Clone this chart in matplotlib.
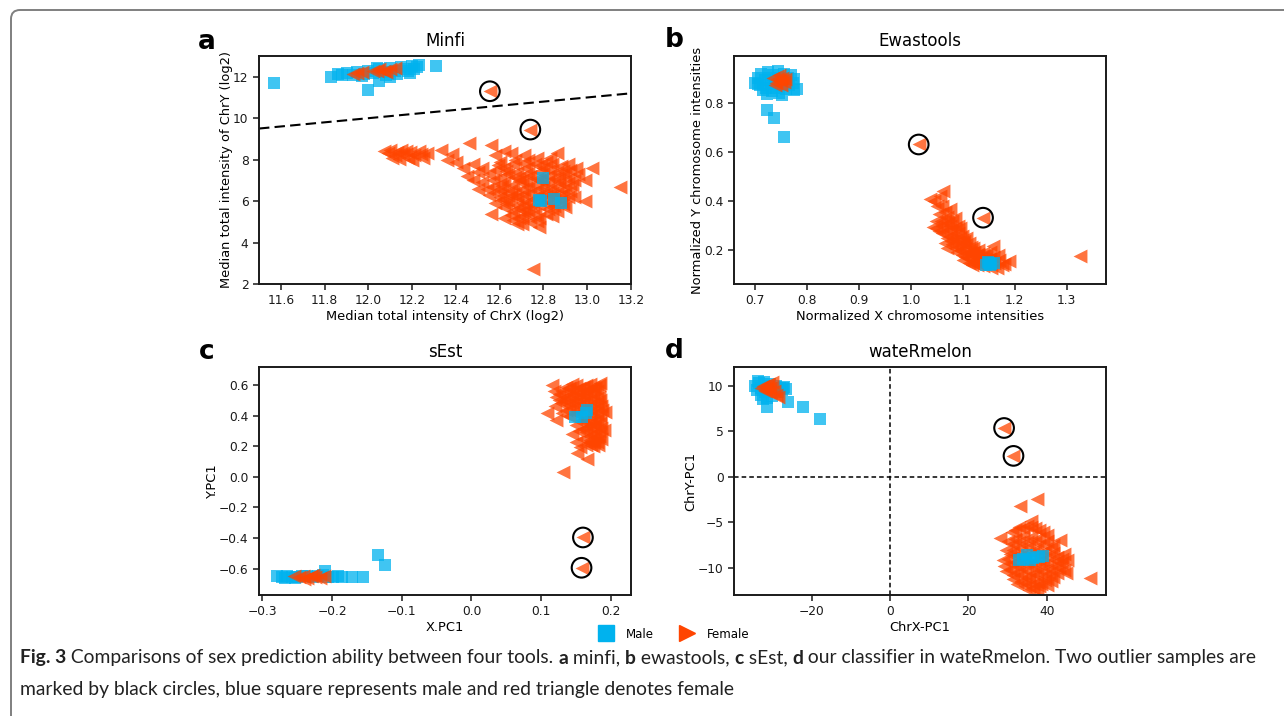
import numpy as np
import matplotlib
matplotlib.use("Agg")
import matplotlib.pyplot as plt
from matplotlib.lines import Line2D
from matplotlib.patches import FancyBboxPatch

# ---- panel a : Minfi ----
a_male = [(11.83, 12.0), (11.86, 12.15), (11.88, 12.1), (11.90, 12.2), (11.93, 12.1), (11.95, 12.25),
          (11.97, 12.05), (11.98, 12.15), (12.00, 12.3), (12.02, 12.2), (12.04, 12.4), (12.05, 12.35),
          (12.07, 12.25), (12.08, 12.1), (12.10, 12.4), (12.12, 12.3), (12.13, 12.15), (12.15, 12.45),
          (12.17, 12.35), (12.18, 12.3), (12.19, 12.2), (12.20, 12.5), (12.21, 12.38), (12.22, 12.45),
          (12.23, 12.55), (12.00, 11.35), (12.05, 11.8), (12.10, 12.0), (11.57, 11.7), (12.31, 12.5)]
a_male_stray = [(12.80, 7.1), (12.79, 6.0), (12.78, 6.05), (12.85, 6.1), (12.88, 5.9)]
a_female = [(11.93, 12.15), (11.95, 12.2), (11.97, 12.25), (12.02, 12.3), (12.04, 12.28), (12.05, 12.35),
            (12.07, 12.3), (12.08, 12.25), (12.10, 12.35), (12.12, 12.4),
            (12.07, 8.40), (12.09, 8.30), (12.10, 8.45), (12.12, 8.20), (12.13, 8.35), (12.15, 8.45),
            (12.16, 8.25), (12.18, 8.10), (12.19, 8.35), (12.21, 8.20), (12.23, 8.40), (12.25, 8.10),
            (12.27, 8.30), (12.14, 8.05), (12.20, 8.00), (12.11, 8.10), (12.24, 8.25), (12.17, 8.40),
            (12.33, 8.45), (12.36, 8.00), (12.40, 7.90), (12.38, 8.25), (12.46, 8.80), (12.56, 8.70),
            (12.65, 8.30), (12.45, 7.20), (12.43, 7.60), (12.48, 7.80), (12.52, 6.90), (12.54, 6.60),
            (12.50, 7.40), (12.58, 8.20), (12.60, 7.90), (12.62, 8.40),
            (12.58, 7.50), (12.60, 7.10), (12.62, 7.60), (12.64, 7.30), (12.66, 7.80), (12.68, 7.40),
            (12.70, 7.00), (12.72, 7.60), (12.74, 7.20), (12.76, 7.80), (12.78, 7.40), (12.80, 7.60),
            (12.82, 7.20), (12.84, 7.80), (12.86, 7.40), (12.88, 7.70), (12.90, 7.30), (12.92, 7.50),
            (12.86, 8.30), (12.60, 6.60), (12.62, 6.90), (12.64, 6.40), (12.66, 6.80), (12.68, 6.20),
            (12.70, 6.60), (12.72, 6.90), (12.74, 6.40), (12.76, 6.80), (12.78, 6.30), (12.80, 6.70),
            (12.82, 6.90), (12.84, 6.40), (12.86, 6.70), (12.88, 6.30), (12.90, 6.80), (12.92, 6.50),
            (12.94, 7.00), (12.58, 5.90), (12.60, 6.20), (12.62, 5.70), (12.64, 6.00), (12.66, 5.50),
            (12.68, 5.80), (12.70, 6.10), (12.72, 5.60), (12.74, 5.90), (12.76, 5.40), (12.78, 5.80),
            (12.80, 6.10), (12.82, 5.60), (12.84, 5.90), (12.86, 5.50), (12.88, 6.00), (12.90, 5.70),
            (12.62, 5.20), (12.66, 5.10), (12.70, 5.30), (12.74, 5.00), (12.78, 5.20), (12.84, 5.30),
            (12.70, 4.90), (12.56, 5.40), (12.68, 4.90), (12.78, 4.75), (12.75, 2.70), (12.99, 6.00),
            (13.15, 6.70), (12.99, 7.00), (13.02, 7.60), (12.96, 7.30), (12.94, 6.20), (12.55, 6.30),
            (12.57, 7.00), (12.52, 7.60), (12.69, 7.10), (12.75, 6.10), (12.81, 6.40), (12.71, 5.50),
            (12.65, 6.20), (12.87, 7.05), (12.79, 7.05), (12.73, 8.00), (12.83, 8.10),
            (12.59, 7.75), (12.63, 7.45), (12.67, 7.15), (12.71, 7.85), (12.73, 7.35), (12.77, 7.05),
            (12.79, 7.75), (12.83, 7.50), (12.85, 7.10), (12.89, 7.45), (12.91, 7.05), (12.61, 6.75),
            (12.65, 6.55), (12.69, 6.95), (12.71, 6.35), (12.73, 6.70), (12.77, 6.55), (12.79, 6.95),
            (12.83, 6.65), (12.85, 6.25), (12.87, 6.90), (12.89, 6.55), (12.93, 6.80), (12.59, 6.40),
            (12.61, 6.05), (12.63, 5.85), (12.67, 6.35), (12.69, 5.65), (12.71, 5.85), (12.75, 5.65),
            (12.77, 6.15), (12.81, 5.85), (12.83, 6.20), (12.85, 5.75), (12.87, 6.15), (12.89, 5.85),
            (12.91, 6.20), (12.65, 5.35), (12.69, 5.20), (12.73, 5.35), (12.77, 5.05), (12.81, 5.40),
            (12.67, 8.00), (12.71, 8.20), (12.77, 8.10), (12.81, 7.90), (12.91, 7.80), (12.95, 7.60),
            (12.57, 6.70), (12.55, 7.30), (12.48, 7.00), (12.50, 6.60)]
a_outlier = [(12.555, 11.3), (12.74, 9.45)]

# ---- panel b : Ewastools ----
b_male = [(0.700, 0.880), (0.705, 0.900), (0.710, 0.870), (0.712, 0.915), (0.718, 0.890), (0.720, 0.860),
          (0.725, 0.925), (0.728, 0.900), (0.730, 0.875), (0.733, 0.845), (0.735, 0.910), (0.738, 0.885),
          (0.740, 0.860), (0.743, 0.930), (0.745, 0.840), (0.748, 0.900), (0.750, 0.870), (0.752, 0.830),
          (0.755, 0.915), (0.758, 0.885), (0.760, 0.855), (0.763, 0.900), (0.765, 0.870), (0.768, 0.910),
          (0.772, 0.880), (0.775, 0.895), (0.715, 0.850), (0.722, 0.835), (0.705, 0.875),
          (0.722, 0.769), (0.736, 0.739), (0.755, 0.660), (0.780, 0.857), (0.775, 0.850)]
b_male_stray = [(1.145, 0.140), (1.150, 0.150), (1.155, 0.145), (1.160, 0.150), (1.148, 0.155), (1.153, 0.140)]
b_female = [(0.735, 0.900), (0.740, 0.880), (0.745, 0.910), (0.748, 0.890), (0.750, 0.870), (0.752, 0.900),
            (0.755, 0.885), (0.742, 0.895), (0.738, 0.870), (0.758, 0.895),
            (1.036, 0.410), (1.045, 0.400), (1.056, 0.420), (1.062, 0.440), (1.060, 0.380), (1.065, 0.355),
            (1.075, 0.370), (1.070, 0.335), (1.058, 0.320), (1.049, 0.290), (1.043, 0.295), (1.060, 0.300),
            (1.068, 0.280), (1.075, 0.300), (1.080, 0.320), (1.085, 0.290), (1.075, 0.260), (1.082, 0.250),
            (1.090, 0.270), (1.088, 0.235), (1.095, 0.250), (1.100, 0.230), (1.092, 0.215), (1.069, 0.210),
            (1.080, 0.225), (1.107, 0.250), (1.105, 0.210), (1.110, 0.190), (1.114, 0.195), (1.101, 0.160),
            (1.110, 0.170), (1.118, 0.180), (1.120, 0.210), (1.127, 0.180), (1.125, 0.160), (1.130, 0.200),
            (1.135, 0.170), (1.139, 0.136), (1.140, 0.155), (1.145, 0.180), (1.152, 0.195), (1.159, 0.220),
            (1.150, 0.165), (1.160, 0.150), (1.165, 0.128), (1.170, 0.160), (1.175, 0.140), (1.190, 0.156),
            (1.155, 0.130), (1.098, 0.180), (1.088, 0.195), (1.326, 0.177), (1.095, 0.290), (1.085, 0.330),
            (1.060, 0.270), (1.050, 0.380), (1.055, 0.350), (1.065, 0.320), (1.072, 0.310), (1.078, 0.280),
            (1.090, 0.300), (1.098, 0.260), (1.102, 0.240), (1.112, 0.230), (1.115, 0.215), (1.122, 0.195),
            (1.130, 0.185), (1.138, 0.190), (1.143, 0.165), (1.132, 0.150), (1.120, 0.150), (1.112, 0.150),
            (1.105, 0.175), (1.095, 0.200), (1.085, 0.210), (1.078, 0.240), (1.070, 0.250), (1.065, 0.230),
            (1.055, 0.280), (1.048, 0.320), (1.168, 0.180), (1.180, 0.145), (1.158, 0.175), (1.128, 0.140),
            (1.118, 0.140)]
b_outlier = [(1.015, 0.630), (1.139, 0.333)]

# ---- panel c : sEst ----
c_male = [(-0.279, -0.650), (-0.272, -0.655), (-0.265, -0.648), (-0.258, -0.652), (-0.250, -0.656),
          (-0.243, -0.650), (-0.236, -0.645), (-0.228, -0.655), (-0.220, -0.650), (-0.213, -0.640),
          (-0.206, -0.652), (-0.199, -0.656), (-0.192, -0.650), (-0.186, -0.652), (-0.210, -0.614),
          (-0.172, -0.652), (-0.155, -0.652), (-0.134, -0.513), (-0.124, -0.579), (-0.268, -0.660),
          (-0.254, -0.662)]
c_male_stray = [(0.149, 0.393), (0.159, 0.393), (0.166, 0.437), (0.164, 0.415)]
c_female = [(-0.255, -0.650), (-0.248, -0.655), (-0.242, -0.645), (-0.236, -0.660), (-0.230, -0.650),
            (-0.224, -0.655), (-0.218, -0.660), (-0.212, -0.650), (-0.240, -0.665), (-0.228, -0.640),
            (0.115, 0.600), (0.185, 0.615), (0.108, 0.415), (0.122, 0.371), (0.132, 0.034), (0.151, 0.153),
            (0.166, 0.120), (0.156, 0.196), (0.192, 0.426), (0.190, 0.306), (0.122, 0.524),
            (0.130, 0.560), (0.140, 0.580), (0.150, 0.600), (0.160, 0.590), (0.170, 0.610), (0.178, 0.580),
            (0.135, 0.520), (0.145, 0.540), (0.155, 0.550), (0.165, 0.560), (0.175, 0.540), (0.183, 0.520),
            (0.128, 0.480), (0.140, 0.490), (0.150, 0.500), (0.160, 0.510), (0.170, 0.500), (0.180, 0.480),
            (0.186, 0.460), (0.135, 0.440), (0.145, 0.450), (0.155, 0.460), (0.165, 0.450), (0.175, 0.440),
            (0.185, 0.400), (0.140, 0.400), (0.152, 0.410), (0.163, 0.380), (0.172, 0.400), (0.180, 0.370),
            (0.150, 0.340), (0.160, 0.350), (0.170, 0.330), (0.178, 0.340), (0.186, 0.320), (0.155, 0.300),
            (0.165, 0.290), (0.175, 0.280), (0.183, 0.270), (0.160, 0.250), (0.170, 0.240), (0.180, 0.230),
            (0.186, 0.250), (0.165, 0.210), (0.175, 0.200), (0.150, 0.230), (0.145, 0.280), (0.130, 0.420),
            (0.120, 0.460), (0.125, 0.540),
            (0.135, 0.590), (0.145, 0.610), (0.155, 0.580), (0.165, 0.600), (0.175, 0.590), (0.183, 0.600),
            (0.140, 0.560), (0.150, 0.570), (0.160, 0.540), (0.170, 0.570), (0.180, 0.560), (0.133, 0.500),
            (0.145, 0.520), (0.155, 0.520), (0.165, 0.530), (0.175, 0.515), (0.185, 0.500), (0.140, 0.470),
            (0.150, 0.480), (0.160, 0.480), (0.170, 0.470), (0.180, 0.460), (0.188, 0.440), (0.150, 0.430),
            (0.160, 0.430), (0.170, 0.420), (0.180, 0.420), (0.158, 0.370), (0.168, 0.360), (0.176, 0.360),
            (0.185, 0.350), (0.165, 0.320), (0.175, 0.310), (0.183, 0.300), (0.160, 0.310), (0.170, 0.270),
            (0.178, 0.260), (0.168, 0.230), (0.176, 0.225), (0.172, 0.205), (0.182, 0.210), (0.125, 0.500),
            (0.118, 0.560)]
c_outlier = [(0.160, -0.396), (0.158, -0.594)]

# ---- panel d : wateRmelon ----
d_male = [(-34.5, 10.0), (-34.0, 9.5), (-33.5, 10.3), (-33.0, 9.0), (-32.8, 9.8), (-32.2, 10.4),
          (-32.0, 9.3), (-31.5, 8.7), (-31.2, 10.0), (-30.8, 9.5), (-30.5, 10.2), (-30.0, 8.9),
          (-29.5, 9.6), (-29.0, 10.0), (-28.5, 9.3), (-28.0, 9.8), (-27.5, 9.5), (-27.0, 9.9),
          (-26.6, 9.6), (-33.8, 10.5), (-31.5, 7.7), (-27.2, 9.7), (-26.0, 8.25), (-22.1, 7.7),
          (-17.9, 6.3), (-32.5, 8.5)]
d_male_stray = [(32.8, -9.1), (34.0, -9.0), (34.9, -8.6), (35.7, -9.1), (36.6, -8.9), (38.0, -8.8), (39.1, -8.7)]
d_female = [(-33.0, 9.8), (-32.5, 10.0), (-32.0, 9.6), (-31.5, 9.9), (-31.0, 10.2), (-30.5, 9.7),
            (-30.0, 10.4), (-29.5, 9.4), (-29.0, 9.0), (-28.5, 8.8), (-30.8, 9.3), (-31.8, 9.4),
            (33.2, -3.2), (37.4, -2.4), (51.0, -11.1), (43.4, -6.9), (28.1, -6.75), (45.1, -9.1),
            (28.9, -9.1), (44.3, -10.2), (31.0, -6.0), (33.0, -5.5), (35.0, -5.4), (37.0, -5.6),
            (39.0, -6.0), (30.0, -7.0), (32.0, -6.8), (34.0, -6.5), (36.0, -6.6), (38.0, -6.7),
            (40.0, -7.0), (41.5, -7.5), (29.5, -8.0), (31.5, -8.0), (33.5, -7.8), (35.5, -7.7),
            (37.5, -7.9), (39.5, -8.1), (41.5, -8.3), (42.5, -8.8), (30.0, -9.0), (32.0, -9.3),
            (34.0, -9.1), (36.0, -9.4), (38.0, -9.2), (40.0, -9.5), (42.0, -9.7), (43.5, -9.5),
            (30.5, -10.2), (32.5, -10.4), (34.5, -10.2), (36.5, -10.5), (38.5, -10.3), (40.5, -10.6),
            (42.5, -10.5), (31.5, -11.2), (33.5, -11.4), (35.5, -11.2), (37.5, -11.5), (39.5, -11.3),
            (41.0, -11.4), (34.5, -12.0), (36.5, -12.2), (38.0, -12.0), (29.0, -9.8), (44.5, -8.5),
            (36.0, -4.8),
            (32.0, -5.8), (34.0, -5.6), (36.0, -5.5), (38.0, -5.8), (40.0, -6.4), (31.0, -7.4),
            (33.0, -7.2), (35.0, -7.1), (37.0, -7.2), (39.0, -7.4), (41.0, -7.8), (30.5, -8.5),
            (32.5, -8.6), (34.5, -8.5), (36.5, -8.3), (38.5, -8.6), (40.5, -8.8), (42.5, -9.2),
            (31.0, -9.6), (33.0, -9.8), (35.0, -9.7), (37.0, -9.9), (39.0, -9.8), (41.0, -10.1),
            (43.0, -10.0), (31.5, -10.8), (33.5, -10.8), (35.5, -10.9), (37.5, -10.8), (39.5, -10.9),
            (41.5, -11.0), (32.5, -11.8), (34.5, -11.6), (36.5, -11.7), (38.5, -11.8), (40.0, -11.9),
            (35.5, -12.4), (37.5, -12.4), (29.5, -10.3), (44.0, -9.0), (45.0, -10.5)]
d_outlier = [(29.1, 5.36), (31.5, 2.3)]

titles = ["Minfi", "Ewastools", "sEst", "wateRmelon"]
letters = ["a", "b", "c", "d"]
xlabels = ["Median total intensity of ChrX (log2)", "Normalized X chromosome intensities", "X.PC1", "ChrX-PC1"]
ylabels = ["Median total intensity of ChrY (log2)", "Normalized Y chromosome intensities", "Y.PC1", "ChrY-PC1"]

BLUE = "#00B2EE"
RED = "#FF4500"

fig = plt.figure(figsize=(12.84, 7.16), dpi=100)

# axes boxes in pixels (left, top) ; all 372 x 228
boxes = [(259, 56), (734, 56), (259, 367), (734, 367)]
axs = []
for (l, t) in boxes:
    ax = fig.add_axes([l / 1284, (716 - t - 228) / 716, 372 / 1284, 228 / 716])
    axs.append(ax)

panels = [(a_male, a_female, a_male_stray, a_outlier),
          (b_male, b_female, b_male_stray, b_outlier),
          (c_male, c_female, c_male_stray, c_outlier),
          (d_male, d_female, d_male_stray, d_outlier)]

for ax, (male, female, stray, outl) in zip(axs, panels):
    m = np.array(male); f = np.array(female); s = np.array(stray); o = np.array(outl)
    ax.scatter(m[:, 0], m[:, 1], marker="s", s=68, color=BLUE, alpha=0.75, lw=0)
    ax.scatter(f[:, 0], f[:, 1], marker="<", s=100, color=RED, alpha=0.75, lw=0)
    ax.scatter(o[:, 0], o[:, 1], marker="<", s=100, color=RED, alpha=0.75, lw=0)
    ax.scatter(s[:, 0], s[:, 1], marker="s", s=68, color=BLUE, alpha=0.75, lw=0)
    ax.scatter(o[:, 0], o[:, 1], marker="o", s=200, facecolors="none", edgecolors="black", lw=1.5)

# limits and ticks
axs[0].set_xlim(11.5, 13.2); axs[0].set_ylim(2, 13)
axs[0].set_xticks(np.arange(11.6, 13.21, 0.2)); axs[0].set_yticks([2, 4, 6, 8, 10, 12])
axs[0].plot([11.5, 13.2], [9.5, 11.2], ls="--", color="black", lw=1.5, dashes=(5, 2.5))
axs[1].set_xlim(0.659, 1.376); axs[1].set_ylim(0.064, 0.989)
axs[1].set_xticks([0.7, 0.8, 0.9, 1.0, 1.1, 1.2, 1.3]); axs[1].set_yticks([0.2, 0.4, 0.6, 0.8])
axs[2].set_xlim(-0.305, 0.229); axs[2].set_ylim(-0.772, 0.718)
axs[2].set_xticks([-0.3, -0.2, -0.1, 0.0, 0.1, 0.2]); axs[2].set_yticks([-0.6, -0.4, -0.2, 0.0, 0.2, 0.4, 0.6])
axs[3].set_xlim(-39.8, 55.1); axs[3].set_ylim(-12.96, 12.05)
axs[3].set_xticks([-20, 0, 20, 40]); axs[3].set_yticks([-10, -5, 0, 5, 10])
axs[3].axvline(0, ls="--", color="black", lw=1.1, dashes=(3, 2))
axs[3].axhline(0, ls="--", color="black", lw=1.1, dashes=(3, 2))

ylab_x = [-0.07, -0.08, -0.107, -0.10]
for i, ax in enumerate(axs):
    for sp in ax.spines.values():
        sp.set_linewidth(1.4)
        sp.set_color("#1a1a1a")
    ax.tick_params(labelsize=8.8, length=4, width=1.1, colors="#1a1a1a")
    ax.set_title(titles[i], fontsize=12, pad=7)
    ax.set_xlabel(xlabels[i], fontsize=9.4)
    ax.set_ylabel(ylabels[i], fontsize=9.4)
    ax.xaxis.set_label_coords(0.5, -0.112)
    ax.yaxis.set_label_coords(ylab_x[i], 0.5)

letter_pos = [(207, 42), (674, 40), (207, 352), (674, 351)]
for (x, y), lt in zip(letter_pos, letters):
    fig.text(x / 1284, 1 - y / 716, lt, fontsize=19, fontweight="bold", ha="center", va="center")

# legend
handles = [Line2D([], [], marker="s", ls="none", color=BLUE, markersize=11),
           Line2D([], [], marker=">", ls="none", color=RED, markersize=12)]
fig.legend(handles, ["Male", "Female"], loc="center", bbox_to_anchor=(672 / 1284, 1 - 634 / 716),
           ncol=2, frameon=False, fontsize=8.5, handletextpad=0.7, columnspacing=1.8)

# caption, laid out run by run
cap_font = "Lato"
cap_size = 13.9
lines = [[("Fig. 3", True), (" Comparisons of sex prediction ability between four tools. ", False),
          ("a", True), (" minfi, ", False), ("b", True), (" ewastools, ", False), ("c", True),
          (" sEst, ", False), ("d", True),
          (" our classifier in wateRmelon. Two outlier samples are", False)],
         [("marked by black circles, blue square represents male and red triangle denotes female", False)]]
line_y = [658, 690]
renderer = fig.canvas.get_renderer()
for runs, ly in zip(lines, line_y):
    x = 20
    for txt, bold in runs:
        t = fig.text(x / 1284, 1 - ly / 716, txt, fontsize=cap_size, family=cap_font,
                     fontweight="bold" if bold else "normal", va="center", ha="left", color="#222222")
        x += t.get_window_extent(renderer).width

# outer frame with rounded corner
frame = FancyBboxPatch((11, -30), 1400, 716 - 10 + 30, boxstyle="round,pad=0,rounding_size=9",
                       transform=None, fill=False, edgecolor="#7f7f7f", lw=1.4)
fig.add_artist(frame)

fig.savefig("out.png", dpi=100)
